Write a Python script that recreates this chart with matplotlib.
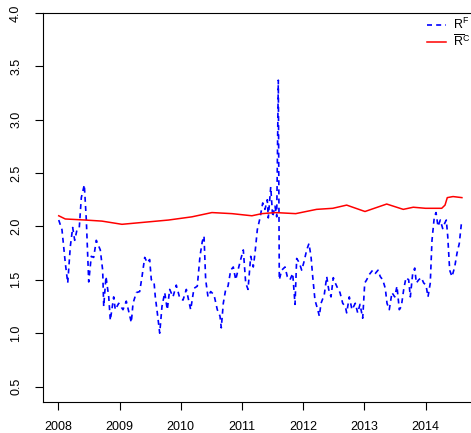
import matplotlib
matplotlib.use("Agg")
import matplotlib.pyplot as plt
import numpy as np

plt.rcParams['font.family'] = ['Liberation Sans', 'DejaVu Sans']
plt.rcParams['mathtext.fontset'] = 'custom'
plt.rcParams['mathtext.rm'] = 'Liberation Sans'
plt.rcParams['mathtext.it'] = 'Liberation Sans'

# R^F series (dashed blue), decimal year / value
f_year = [2008.007, 2008.060, 2008.114, 2008.154, 2008.196, 2008.235, 2008.268, 2008.306,
          2008.343, 2008.376, 2008.425, 2008.458, 2008.497, 2008.539, 2008.578, 2008.621,
          2008.686, 2008.725, 2008.742, 2008.779, 2008.824, 2008.850, 2008.905, 2008.931,
          2008.987, 2009.057, 2009.111, 2009.193, 2009.221, 2009.275, 2009.330, 2009.368,
          2009.412, 2009.454, 2009.493, 2009.520, 2009.564, 2009.585, 2009.618, 2009.657,
          2009.694, 2009.739, 2009.781, 2009.820, 2009.874, 2009.928, 2009.984, 2010.038,
          2010.092, 2010.163, 2010.217, 2010.271, 2010.315, 2010.353, 2010.381, 2010.408,
          2010.446, 2010.490, 2010.544, 2010.598, 2010.642, 2010.663, 2010.696, 2010.735,
          2010.773, 2010.817, 2010.859, 2010.899, 2010.936, 2010.980, 2011.023, 2011.062,
          2011.100, 2011.144, 2011.186, 2011.214, 2011.252, 2011.296, 2011.340, 2011.377,
          2011.415, 2011.431, 2011.471, 2011.503, 2011.541, 2011.569, 2011.595, 2011.611,
          2011.650, 2011.704, 2011.742, 2011.786, 2011.830, 2011.868, 2011.895, 2011.938,
          2011.977, 2012.015, 2012.059, 2012.096, 2012.129, 2012.157, 2012.194, 2012.239,
          2012.265, 2012.293, 2012.346, 2012.386, 2012.418, 2012.456, 2012.493, 2012.526,
          2012.565, 2012.603, 2012.647, 2012.690, 2012.712, 2012.755, 2012.799, 2012.853,
          2012.892, 2012.930, 2012.974, 2013.007, 2013.039, 2013.082, 2013.137, 2013.180,
          2013.224, 2013.261, 2013.301, 2013.343, 2013.371, 2013.408, 2013.452, 2013.497,
          2013.534, 2013.572, 2013.605, 2013.644, 2013.681, 2013.725, 2013.752, 2013.791,
          2013.824, 2013.850, 2013.889, 2013.931, 2013.971, 2014.008, 2014.041, 2014.078,
          2014.106, 2014.144, 2014.172, 2014.204, 2014.242, 2014.281, 2014.314, 2014.340,
          2014.363, 2014.395, 2014.433, 2014.477, 2014.515, 2014.552, 2014.585]
f_val = [2.06, 1.97, 1.66, 1.47, 1.81, 1.99, 1.87, 1.97,
         1.99, 2.27, 2.39, 2.06, 1.48, 1.72, 1.71, 1.87,
         1.78, 1.59, 1.25, 1.53, 1.34, 1.12, 1.34, 1.22,
         1.28, 1.22, 1.30, 1.10, 1.28, 1.38, 1.39, 1.53,
         1.71, 1.66, 1.69, 1.50, 1.48, 1.34, 1.19, 1.00,
         1.25, 1.38, 1.22, 1.41, 1.34, 1.45, 1.33, 1.31,
         1.41, 1.22, 1.42, 1.44, 1.72, 1.86, 1.91, 1.50,
         1.34, 1.39, 1.36, 1.22, 1.16, 1.05, 1.28, 1.41,
         1.44, 1.59, 1.62, 1.50, 1.59, 1.69, 1.78, 1.47,
         1.41, 1.72, 1.62, 1.75, 1.97, 2.08, 2.22, 2.16,
         2.25, 2.08, 2.37, 2.09, 2.19, 2.09, 3.37, 1.50,
         1.59, 1.62, 1.53, 1.50, 1.56, 1.27, 1.70, 1.66,
         1.59, 1.67, 1.78, 1.84, 1.72, 1.53, 1.31, 1.22,
         1.16, 1.28, 1.36, 1.53, 1.41, 1.34, 1.52, 1.47,
         1.42, 1.38, 1.28, 1.25, 1.19, 1.34, 1.22, 1.28,
         1.19, 1.27, 1.14, 1.47, 1.50, 1.55, 1.59, 1.56,
         1.59, 1.53, 1.50, 1.42, 1.28, 1.22, 1.38, 1.34,
         1.44, 1.22, 1.25, 1.41, 1.52, 1.50, 1.34, 1.56,
         1.61, 1.47, 1.50, 1.52, 1.47, 1.45, 1.34, 1.47,
         1.87, 2.09, 2.13, 2.00, 2.06, 1.98, 2.03, 2.06,
         1.91, 1.59, 1.53, 1.62, 1.75, 1.84, 2.02]

# R-bar^C series (solid red)
c_year = [2008.007, 2008.114, 2008.440, 2008.713, 2009.040, 2009.420, 2009.800, 2010.183,
          2010.510, 2010.837, 2011.163, 2011.327, 2011.544, 2011.879, 2012.220, 2012.485,
          2012.712, 2013.011, 2013.366, 2013.637, 2013.800, 2014.000, 2014.265, 2014.319,
          2014.356, 2014.450, 2014.595]
c_val = [2.10, 2.07, 2.06, 2.05, 2.02, 2.04, 2.06, 2.09,
         2.13, 2.12, 2.10, 2.12, 2.13, 2.12, 2.16, 2.17,
         2.20, 2.14, 2.21, 2.16, 2.18, 2.17, 2.17, 2.20,
         2.27, 2.28, 2.27]

year_ticks = [2008, 2009, 2010, 2011, 2012, 2013, 2014]
y_ticks = [0.5, 1.0, 1.5, 2.0, 2.5, 3.0, 3.5, 4.0]

W, H = 471, 433
fig = plt.figure(figsize=(W / 100, H / 100), dpi=100)
x0, x1 = 2007.75, 2014.85
ppy = 61.2
ax = fig.add_axes([43 / W, 1 - 402 / H, (x1 - x0) * ppy / W, (402 - 13) / H])

ax.plot(f_year, f_val, color='blue', lw=1.2, linestyle=(0, (3, 2.5)), label=r'$R^F$')
ax.plot(c_year, c_val, color='red', lw=1.1, label=r'$\overline{R}^C$')

ax.set_xlim(x0, x1)
ax.set_ylim(0.355, 4.0)
ax.set_xticks(year_ticks)
ax.set_xticklabels([str(y) for y in year_ticks])
ax.set_yticks(y_ticks)
ax.set_yticklabels([f'{v:.1f}' for v in y_ticks], rotation=90, va='center')
ax.tick_params(direction='out', length=6, width=0.8, labelsize=9)
ax.tick_params(axis='x', pad=8)
ax.tick_params(axis='y', pad=9)
for s in ax.spines.values():
    s.set_linewidth(0.8)

ax.legend(loc='upper left', bbox_to_anchor=(427 / W, 1 - 17 / H), bbox_transform=fig.transFigure,
          frameon=False, borderpad=0, borderaxespad=0, handlelength=1.5, handletextpad=0.6,
          labelspacing=0.1, fontsize=9)

fig.savefig('out.png', dpi=100)
